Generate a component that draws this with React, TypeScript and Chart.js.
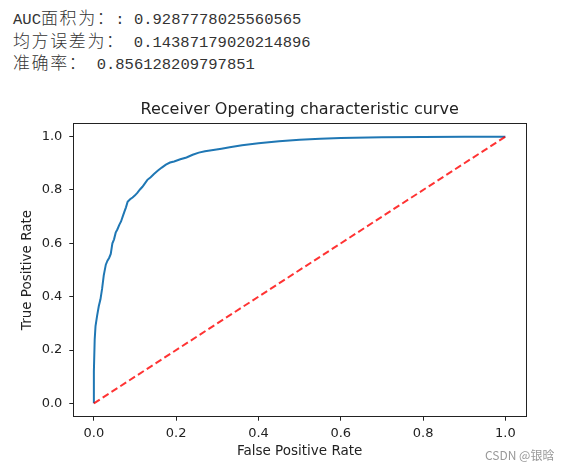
import React, { useEffect, useRef } from "react";
import { Chart, registerables } from "chart.js";

Chart.register(...registerables);

// ---- data ----
const infoLabels = ["AUC面积为：:", "均方误差为：", "准确率："];
const infoValues = ["0.9287778025560565", "0.14387179020214896", "0.856128209797851"];

const fpr = [0, 0, 0.002, 0.004, 0.008, 0.012, 0.016, 0.02, 0.024, 0.029, 0.033, 0.037, 0.041, 0.045, 0.049, 0.053, 0.057, 0.062, 0.066, 0.07, 0.074, 0.078, 0.082, 0.088, 0.094, 0.1, 0.106, 0.112, 0.118, 0.124, 0.13, 0.138, 0.146, 0.155, 0.165, 0.175, 0.185, 0.195, 0.21, 0.225, 0.24, 0.255, 0.27, 0.29, 0.31, 0.33, 0.36, 0.4, 0.45, 0.5, 0.55, 0.6, 0.7, 0.8, 0.9, 1.0];
const tpr = [0, 0.12, 0.24, 0.29, 0.33, 0.365, 0.39, 0.43, 0.48, 0.52, 0.535, 0.545, 0.56, 0.6, 0.615, 0.64, 0.652, 0.67, 0.682, 0.7, 0.718, 0.735, 0.756, 0.765, 0.772, 0.78, 0.79, 0.802, 0.812, 0.825, 0.838, 0.848, 0.86, 0.872, 0.884, 0.895, 0.903, 0.907, 0.915, 0.922, 0.932, 0.94, 0.945, 0.95, 0.955, 0.96, 0.968, 0.975, 0.983, 0.988, 0.992, 0.995, 0.998, 0.999, 1.0, 1.0];
const diagX = [0, 1];
const diagY = [0, 1];

const xTicks = [0, 0.2, 0.4, 0.6, 0.8, 1.0];
const yTicks = [0, 0.2, 0.4, 0.6, 0.8, 1.0];

const chartTitle = "Receiver Operating characteristic curve";
const xTitle = "False Positive Rate";
const yTitle = "True Positive Rate";
const watermark = "CSDN @银晗";

const FONT = "'DejaVu Sans', sans-serif";
const INK = "#222";

const spinePlugin = {
  id: "spines",
  afterDatasetsDraw(chart: any) {
    const { ctx, chartArea } = chart;
    ctx.save();
    ctx.strokeStyle = INK;
    ctx.lineWidth = 1;
    ctx.strokeRect(
      Math.round(chartArea.left) + 0.5,
      Math.round(chartArea.top) + 0.5,
      Math.round(chartArea.right - chartArea.left),
      Math.round(chartArea.bottom - chartArea.top)
    );
    ctx.restore();
  },
};

function RocChart() {
  const ref = useRef<HTMLCanvasElement | null>(null);
  useEffect(() => {
    if (!ref.current) return;
    const chart = new Chart(ref.current, {
      type: "scatter",
      data: {
        datasets: [
          {
            data: diagX.map((x, i) => ({ x, y: diagY[i] })),
            showLine: true,
            borderColor: "rgba(255,0,0,0.8)",
            borderWidth: 2,
            borderDash: [7, 3.5],
            pointRadius: 0,
            order: 0,
          },
          {
            data: fpr.map((x, i) => ({ x, y: tpr[i] })),
            showLine: true,
            borderColor: "#1f77b4",
            borderWidth: 2,
            pointRadius: 0,
            tension: 0,
            order: 1,
          },
        ],
      },
      options: {
        animation: false,
        responsive: false,
        devicePixelRatio: 1,
        events: [],
        layout: { padding: { left: 0, right: 42, top: 0, bottom: 0 } },
        plugins: {
          legend: { display: false },
          tooltip: { enabled: false },
          title: {
            display: true,
            text: chartTitle,
            fullSize: false,
            color: INK,
            font: { family: FONT, size: 16, weight: "normal" },
            padding: { top: 10.4, bottom: 3.7 },
          },
        },
        scales: {
          x: {
            type: "linear",
            min: -0.05,
            max: 1.05,
            afterBuildTicks: (s: any) => {
              s.ticks = xTicks.map((v) => ({ value: v }));
            },
            afterFit: (s: any) => {
              s.height = 53.3;
            },
            ticks: {
              color: INK,
              font: { family: FONT, size: 13 },
              padding: 5,
              maxRotation: 0,
              callback: (v: any) => Number(v).toFixed(1),
            },
            grid: { display: true, drawOnChartArea: false, drawTicks: true, tickLength: 4, tickColor: INK, tickWidth: 1 },
            border: { display: false },
            title: {
              display: true,
              text: xTitle,
              color: INK,
              font: { family: FONT, size: 13.5 },
              padding: { top: 0, bottom: 10.2 },
            },
          },
          y: {
            type: "linear",
            min: -0.05,
            max: 1.05,
            afterBuildTicks: (s: any) => {
              s.ticks = yTicks.map((v) => ({ value: v }));
            },
            afterFit: (s: any) => {
              s.width = 73.3;
            },
            ticks: {
              color: INK,
              font: { family: FONT, size: 13 },
              padding: 7,
              callback: (v: any) => Number(v).toFixed(1),
            },
            grid: { display: true, drawOnChartArea: false, drawTicks: true, tickLength: 4, tickColor: INK, tickWidth: 1 },
            border: { display: false },
            title: {
              display: true,
              text: yTitle,
              color: INK,
              font: { family: FONT, size: 13.5 },
              padding: { top: 19.4, bottom: 0 },
            },
          },
        },
      },
      plugins: [spinePlugin],
    } as any);
    return () => chart.destroy();
  }, []);
  return <canvas ref={ref} width={568} height={380} style={{ display: "block" }} />;
}

export default function App() {
  return (
    <div style={{ position: "absolute", left: 0, top: 0, width: 568, height: 470, background: "#fff", overflow: "hidden" }}>
      <div
        style={{
          position: "absolute",
          left: 13,
          top: 6,
          fontFamily: "'Liberation Mono', 'Noto Sans CJK SC', monospace",
          fontSize: "15.5px",
          color: "#333",
          whiteSpace: "pre",
        }}
      >
        {infoLabels.map((lab, i) => (
          <div key={i} style={{ height: 22.5, lineHeight: "22.5px" }}>
            {Array.from(lab).map((ch, j) =>
              /[\u3000-\u9fff\uff00-\uffef]/.test(ch) ? (
                <span key={j} style={{ fontFamily: "'Noto Sans CJK SC'", fontSize: "17px", fontWeight: 300, display: "inline-block", width: 18.6 }}>
                  {ch}
                </span>
              ) : (
                <span key={j}>{ch}</span>
              )
            )}
            {" " + infoValues[i]}
          </div>
        ))}
      </div>
      <div style={{ position: "absolute", left: 0, top: 90, width: 568, height: 380 }}>
        <RocChart />
      </div>
      <div
        style={{
          position: "absolute",
          left: 485,
          top: 446,
          fontFamily: "'Noto Sans CJK SC', sans-serif",
          fontSize: "12px",
          color: "#999",
          whiteSpace: "pre",
        }}
      >
        {watermark}
      </div>
    </div>
  );
}
